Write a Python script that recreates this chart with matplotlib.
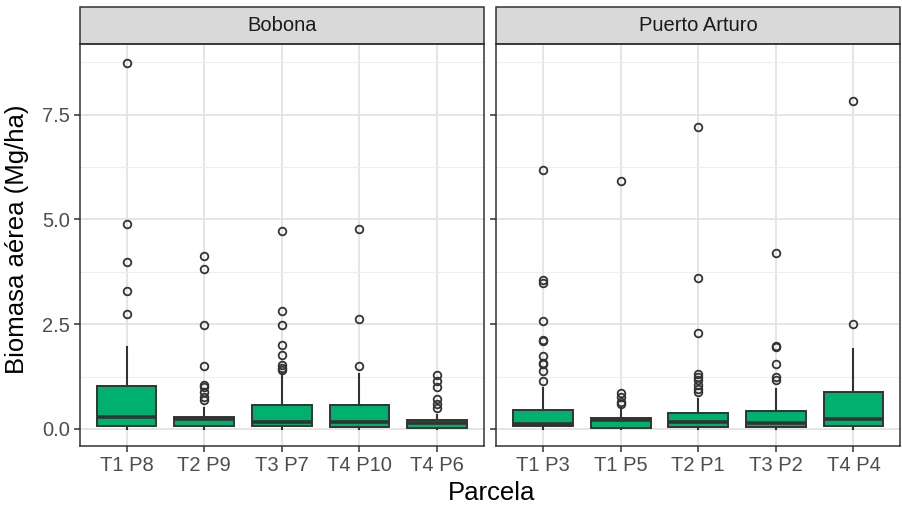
import matplotlib.pyplot as plt
from matplotlib.patches import Rectangle

plt.rcParams['font.family'] = ['Liberation Sans', 'DejaVu Sans']

# sitios y parcelas
sitios = ["Bobona", "Puerto Arturo"]
parcelas = {
    "Bobona": ["T1 P8", "T2 P9", "T3 P7", "T4 P10", "T4 P6"],
    "Puerto Arturo": ["T1 P3", "T1 P5", "T2 P1", "T3 P2", "T4 P4"],
}

# resumen de cajas (Mg/ha): q1, mediana, q3, bigote inferior, bigote superior
q1 = {
    "Bobona": [0.07, 0.06, 0.06, 0.04, 0.02],
    "Puerto Arturo": [0.06, 0.03, 0.05, 0.04, 0.06],
}
mediana = {
    "Bobona": [0.28, 0.24, 0.17, 0.17, 0.15],
    "Puerto Arturo": [0.12, 0.21, 0.16, 0.15, 0.24],
}
q3 = {
    "Bobona": [1.03, 0.29, 0.58, 0.58, 0.21],
    "Puerto Arturo": [0.46, 0.26, 0.39, 0.43, 0.87],
}
bigote_inf = {
    "Bobona": [0.0, 0.0, 0.0, 0.0, 0.0],
    "Puerto Arturo": [0.0, 0.0, 0.0, 0.0, 0.0],
}
bigote_sup = {
    "Bobona": [1.95, 0.49, 1.33, 1.31, 0.33],
    "Puerto Arturo": [0.97, 0.51, 0.71, 0.95, 1.90],
}
atipicos = {
    "Bobona": [
        [8.73, 4.89, 3.98, 3.30, 2.75],
        [4.12, 3.82, 2.49, 1.50, 1.05, 0.99, 0.87, 0.76, 0.69],
        [4.73, 2.81, 2.47, 2.01, 1.76, 1.52, 1.45, 1.41],
        [4.78, 2.63, 1.51],
        [1.29, 1.15, 0.99, 0.72, 0.60, 0.49],
    ],
    "Puerto Arturo": [
        [6.18, 3.55, 3.49, 2.58, 2.12, 2.10, 1.74, 1.58, 1.55, 1.38, 1.14],
        [5.92, 0.85, 0.76, 0.65, 0.60],
        [7.20, 3.61, 2.28, 1.32, 1.25, 1.17, 1.05, 0.96, 0.88],
        [4.19, 1.98, 1.95, 1.55, 1.25, 1.16],
        [7.82, 2.51],
    ],
}

verde = "#00b06f"
borde = "#333333"

fig, axes = plt.subplots(1, 2, figsize=(9.03, 5.08), dpi=100, sharey=True)
fig.subplots_adjust(left=0.0886, right=0.9967, top=0.9134, bottom=0.122, wspace=0.032)

for ax, sitio in zip(axes, sitios):
    stats = []
    for i, p in enumerate(parcelas[sitio]):
        stats.append(dict(label=p, q1=q1[sitio][i], med=mediana[sitio][i], q3=q3[sitio][i],
                          whislo=bigote_inf[sitio][i], whishi=bigote_sup[sitio][i],
                          fliers=atipicos[sitio][i]))
    ax.bxp(stats, positions=range(1, 6), widths=0.77, patch_artist=True,
           showcaps=False,
           boxprops=dict(facecolor=verde, edgecolor=borde, linewidth=1.4),
           medianprops=dict(color=borde, linewidth=2.6),
           whiskerprops=dict(color=borde, linewidth=1.5),
           flierprops=dict(marker="o", markerfacecolor="none", markeredgecolor=borde,
                           markersize=5.5, markeredgewidth=1.3),
           zorder=3)

    ax.set_xlim(0.4, 5.6)
    ax.set_ylim(-0.41, 9.19)
    ax.set_yticks([0, 2.5, 5.0, 7.5])
    ax.set_yticks([1.25, 3.75, 6.25, 8.75], minor=True)
    ax.grid(True, which="major", color="#e3e3e3", linewidth=1.3, zorder=0)
    ax.grid(True, which="minor", axis="y", color="#eeeeee", linewidth=0.8, zorder=0)
    ax.set_axisbelow(True)
    for s in ax.spines.values():
        s.set_color(borde)
        s.set_linewidth(1.1)
    ax.tick_params(axis="both", which="major", colors=borde, labelcolor="#4d4d4d",
                   labelsize=14.5, length=4, width=1.1, pad=3)
    ax.tick_params(axis="y", which="minor", length=0)
    ax.set_xticks(range(1, 6))
    ax.set_xticklabels(parcelas[sitio])

    # franja con el nombre del sitio
    franja = Rectangle((0, 1.0), 1, 0.092, transform=ax.transAxes, clip_on=False,
                       facecolor="#d9d9d9", edgecolor=borde, linewidth=1.1)
    ax.add_patch(franja)
    ax.text(0.5, 1.046, sitio, transform=ax.transAxes, ha="center", va="center",
            fontsize=14.5, color="#1a1a1a")

fig.text(0.019, 0.53, "Biomasa aérea (Mg/ha)", rotation=90, ha="center", va="center",
         fontsize=18.5)
fig.text(0.544, 0.029, "Parcela", ha="center", va="center", fontsize=18.5)

fig.savefig("out.png", dpi=100)
